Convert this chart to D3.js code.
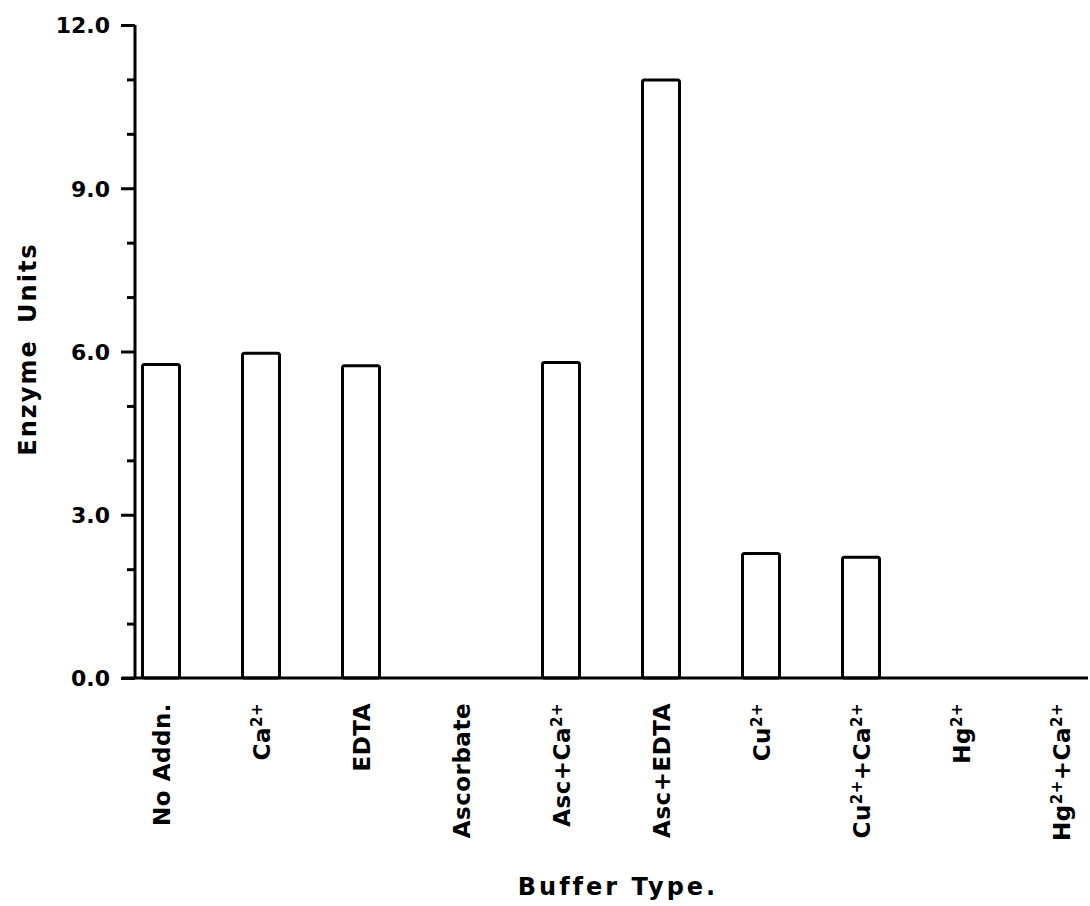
<!DOCTYPE html>
<html><head><meta charset="utf-8">
<script src="https://cdn.jsdelivr.net/npm/d3@7"></script>
<style>body{margin:0;background:#fff}svg{display:block}text{font-family:"DejaVu Sans",sans-serif;font-weight:bold;fill:#000}</style>
</head><body>
<svg id="c" width="1090" height="906"></svg>
<script>
const categories = ["No Addn.", "Ca2+", "EDTA", "Ascorbate", "Asc+Ca2+", "Asc+EDTA", "Cu2+", "Cu2++Ca2+", "Hg2+", "Hg2++Ca2+"];
const values = [5.76, 5.97, 5.74, 0, 5.8, 10.99, 2.29, 2.22, 0, 0];
const yTicks = [0, 3, 6, 9, 12];
const yMinorTicks = [1, 2, 4, 5, 7, 8, 10, 11];

const svg = d3.select("#c");
const x = d3.scaleBand().domain(categories).range([111, 1111]).paddingInner(0.63).paddingOuter(0.315);
const y = d3.scaleLinear().domain([0, 12]).range([678, 25]);

// bars
svg.append("g").selectAll("rect").data(categories.map((c,i)=>({c,v:values[i]})).filter(d=>d.v>0))
  .join("rect")
  .attr("x", d=>x(d.c)).attr("width", x.bandwidth())
  .attr("y", d=>y(d.v)).attr("height", d=>y(0)-y(d.v))
  .attr("rx", 2)
  .attr("fill", "#fff").attr("stroke", "#000").attr("stroke-width", 3);

// y axis
const yAxis = d3.axisLeft(y).tickValues(yTicks).tickFormat(d3.format(".1f")).tickSize(14).tickPadding(11);
const gy = svg.append("g").attr("transform", "translate(135,0)").call(yAxis);
gy.select(".domain").attr("stroke-width", 3).attr("d", `M0,${y(12)}V${y(0)}`);
gy.selectAll(".tick line").attr("stroke-width", 3);
gy.selectAll(".tick text").style("font-size", "22px").attr("dy", "0.36em");
const gym = svg.append("g").attr("transform", "translate(135,0)").call(d3.axisLeft(y).tickValues(yMinorTicks).tickSize(8).tickFormat(""));
gym.select(".domain").remove();
gym.selectAll(".tick line").attr("stroke-width", 3);

// x axis line
svg.append("line").attr("x1", 122).attr("x2", 1088).attr("y1", y(0)).attr("y2", y(0)).attr("stroke", "#000").attr("stroke-width", 3);

// x labels
function writeLabel(sel, label) {
  const parts = label.split(/(2\+)/);
  parts.forEach(p => {
    if (!p) return;
    if (p === "2+") {
      sel.append("tspan").text("2+").style("font-size", "15px").attr("baseline-shift", "55%");
    } else {
      sel.append("tspan").text(p);
    }
  });
}
const gx = svg.append("g");
categories.forEach(c => {
  const t = gx.append("text")
    .attr("transform", `translate(${x(c) + x.bandwidth()/2 + 9},703) rotate(-90)`)
    .attr("text-anchor", "end")
    .style("font-size", "23px")
    .style("letter-spacing", "0.5px");
  writeLabel(t, c);
});

// axis titles
svg.append("text").attr("x", 618).attr("y", 895).attr("text-anchor", "middle")
  .style("font-size", "24px").style("letter-spacing", "3px").text("Buffer Type.");
svg.append("text").attr("transform", "translate(36,349) rotate(-90)").attr("text-anchor", "middle")
  .style("font-size", "24px").style("letter-spacing", "2px").style("word-spacing", "6px").text("Enzyme Units");
</script>
</body></html>
